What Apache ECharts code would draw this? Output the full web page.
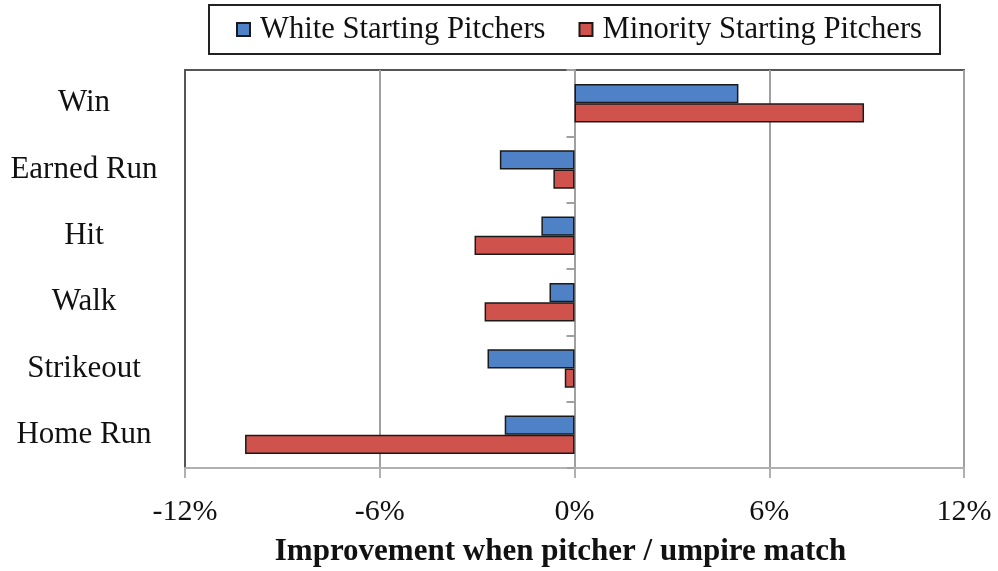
<!DOCTYPE html>
<html>
<head>
<meta charset="utf-8">
<script src="https://cdn.jsdelivr.net/npm/echarts@6/dist/echarts.min.js"></script>
<style>html,body{margin:0;padding:0;background:#fff;}#c{width:998px;height:571px;}</style>
</head>
<body>
<div id="c"></div>
<script>
var categories = ['Win', 'Earned Run', 'Hit', 'Walk', 'Strikeout', 'Home Run'];
var whiteValues = [5.05, -2.3, -1.02, -0.77, -2.68, -2.15];
var minorityValues = [8.92, -0.65, -3.08, -2.77, -0.3, -10.15];
var seriesNames = ['White Starting Pitchers', 'Minority Starting Pitchers'];
var xTicks = { min: -12, max: 12, interval: 6 };

var serif = '"Liberation Serif", "Times New Roman", serif';
var chart = echarts.init(document.getElementById('c'), null, { renderer: 'canvas' });
chart.setOption({
  animation: false,
  backgroundColor: '#fff',
  legend: {
    top: 5,
    left: 209,
    data: seriesNames,
    itemWidth: 13,
    itemHeight: 13,
    itemGap: 33,
    padding: [9, 18, 9, 27],
    borderColor: '#222',
    borderWidth: 2,
    icon: 'rect',
    textStyle: { fontFamily: serif, fontSize: 30.6, color: '#111', padding: [0, 0, 0, 5] }
  },
  grid: {
    left: 185, right: 34, top: 70, bottom: 103,
    outerBoundsMode: 'none',
    containLabel: false,
    show: true, borderColor: '#555', borderWidth: 2, backgroundColor: 'transparent'
  },
  xAxis: {
    type: 'value',
    min: xTicks.min, max: xTicks.max, interval: xTicks.interval,
    axisLine: { show: true, onZero: false, lineStyle: { color: '#b0b0b0', width: 2 } },
    axisTick: { show: true, length: 10, lineStyle: { color: '#b0b0b0', width: 2 } },
    splitLine: { show: true, lineStyle: { color: '#a0a0a0', width: 2 } },
    axisLabel: { margin: 29, fontFamily: serif, fontSize: 30, color: '#111', formatter: function (v) { return v + '%'; } },
    name: 'Improvement when pitcher / umpire match',
    nameLocation: 'middle',
    nameGap: 68,
    nameTextStyle: { fontFamily: serif, fontSize: 31, fontWeight: 'bold', color: '#111', padding: [0, 28, 0, 0] }
  },
  yAxis: [{
    type: 'category',
    data: categories,
    inverse: true,
    position: 'left',
    axisLine: { show: true, onZero: false, lineStyle: { color: '#555', width: 2 } },
    axisTick: { show: false },
    axisLabel: { margin: 101, fontFamily: serif, fontSize: 31, color: '#111', align: 'center' },
    splitLine: { show: false }
  }, {
    type: 'category',
    data: categories,
    inverse: true,
    position: 'left',
    axisLine: { show: true, onZero: true, lineStyle: { color: '#a0a0a0', width: 2 } },
    axisTick: { show: true, length: 8, lineStyle: { color: '#a0a0a0', width: 2 } },
    axisLabel: { show: false },
    splitLine: { show: false }
  }],
  series: [{
    name: seriesNames[0],
    type: 'bar',
    data: whiteValues,
    barGap: '0%',
    barCategoryGap: '42%',
    itemStyle: { color: '#4F81C6', borderColor: '#1a1a1a', borderWidth: 1.5 }
  }, {
    name: seriesNames[1],
    type: 'bar',
    data: minorityValues,
    barGap: '0%',
    barCategoryGap: '42%',
    itemStyle: { color: '#CF524C', borderColor: '#1a1a1a', borderWidth: 1.5 }
  }]
});
</script>
</body>
</html>
